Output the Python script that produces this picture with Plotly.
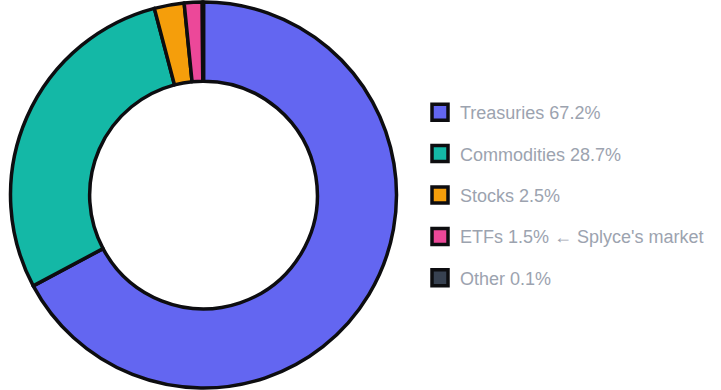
import plotly.graph_objects as go

categories = ["Treasuries", "Commodities", "Stocks", "ETFs", "Other"]
values = [67.2, 28.7, 2.5, 1.5, 0.1]
suffixes = ["", "", "", " ← Splyce's market", ""]
colors = ["#6366f1", "#14b8a6", "#f59e0b", "#ec4899", "#374151"]

legend_labels = [f"{c} {v}%{s}" for c, v, s in zip(categories, values, suffixes)]

W, H = 721, 390
fig = go.Figure()
fig.add_trace(go.Pie(
    labels=legend_labels,
    values=values,
    hole=0.59,
    sort=False,
    direction="clockwise",
    rotation=0,
    marker=dict(colors=colors, line=dict(color="#0d0d10", width=3.5)),
    textinfo="none",
    showlegend=False,
    domain=dict(x=[10.5 / W, 396.5 / W], y=[2.0 / H, 388.0 / H]),
))

for i, (lab, col) in enumerate(zip(legend_labels, colors)):
    fig.add_trace(go.Scatter(
        x=[None], y=[None], mode="markers", name=lab,
        legendgroup=f"g{i}",
        marker=dict(symbol="square", size=16, color=col,
                    line=dict(color="#0d0d10", width=3.5)),
    ))

fig.update_layout(
    width=W, height=H,
    margin=dict(l=0, r=0, t=0, b=0),
    paper_bgcolor="white", plot_bgcolor="white",
    xaxis=dict(visible=False), yaxis=dict(visible=False),
    legend=dict(
        x=420 / W, xanchor="left", y=0.5, yanchor="middle",
        font=dict(family="Liberation Sans, Arial, sans-serif", size=18, color="#9ca3af"),
        tracegroupgap=15, traceorder="grouped",
        bgcolor="rgba(0,0,0,0)",
    ),
)

fig.write_html("out.html")
